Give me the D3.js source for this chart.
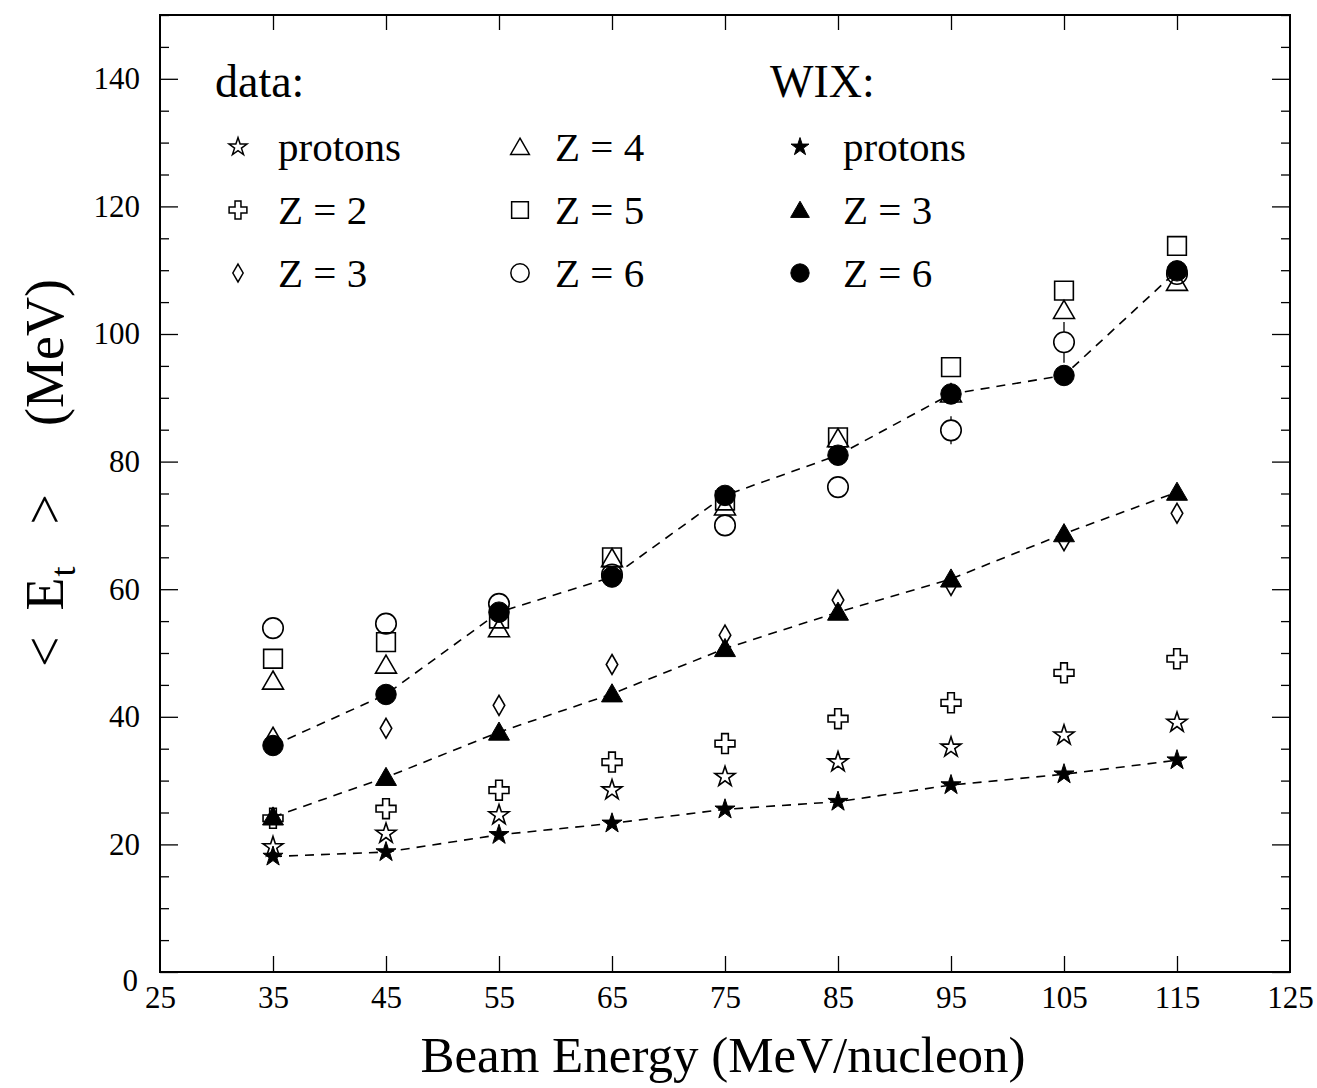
<!DOCTYPE html>
<html><head><meta charset="utf-8">
<script src="https://cdn.jsdelivr.net/npm/d3@7"></script>
<style>
html,body{margin:0;padding:0;background:#fff;}
text{font-family:"Liberation Serif","Times New Roman",serif;fill:#000;}
</style></head>
<body>
<svg id="chart" width="1317" height="1088"></svg>
<script>
const energies = [35,45,55,65,75,85,95,105,115];
const xTicks = [25,35,45,55,65,75,85,95,105,115,125];
const yTicks = [0,20,40,60,80,100,120,140];

const dataProtons = [19.6,21.7,24.6,28.5,30.6,32.9,35.2,37.1,39.1];
const dataZ2 = [24.1,25.6,28.5,32.9,35.8,39.7,42.2,46.9,49.1];
const dataZ3 = [36.8,38.2,41.8,48.2,52.8,58.3,60.6,67.6,71.9];
const dataZ4 = [45.6,48.1,53.8,64.8,72.9,83.6,90.6,103.7,108.1];
const dataZ5 = [49.1,51.7,55.4,65.0,73.9,83.8,94.8,106.8,113.8];
const dataZ6 = [53.9,54.6,57.7,62.3,70.0,76.0,84.9,98.7,109.4];
const dataZ6Err = [0,0,0,0,0,0,2.2,3.2,0];
const wixProtons = [18.1,18.8,21.5,23.3,25.5,26.7,29.3,31.0,33.2];
const wixZ3 = [24.3,30.5,37.6,43.6,50.7,56.4,61.6,68.7,75.2];
const wixZ6 = [35.5,43.5,56.4,61.9,74.7,81.0,90.6,93.5,109.9];

const svg = d3.select("#chart");
const L=160, R=1290, T=15, B=972;
const x = d3.scaleLinear().domain([25,125]).range([L,R]);
const y = d3.scaleLinear().domain([0,150]).range([B,T]);

const sym = {
  star: d3.symbolStar, cross: d3.symbolCross, diamond: d3.symbolDiamond,
  triangle: d3.symbolTriangle, square: d3.symbolSquare, circle: d3.symbolCircle
};
const sizes = {star:125, cross:220, diamond:115, triangle:190, square:350, circle:330};

const dataSeries = [
  {name:"protons", vals:dataProtons, s:"star", filled:false},
  {name:"Z = 2", vals:dataZ2, s:"cross", filled:false},
  {name:"Z = 3", vals:dataZ3, s:"diamond", filled:false},
  {name:"Z = 4", vals:dataZ4, s:"triangle", filled:false},
  {name:"Z = 5", vals:dataZ5, s:"square", filled:false},
  {name:"Z = 6", vals:dataZ6, s:"circle", filled:false, err:dataZ6Err}
];
const wixSeries = [
  {name:"protons", vals:wixProtons, s:"star", filled:true},
  {name:"Z = 3", vals:wixZ3, s:"triangle", filled:true},
  {name:"Z = 6", vals:wixZ6, s:"circle", filled:true}
];

function symPath(s, scale){ return d3.symbol().type(sym[s]).size(sizes[s]*(scale||1))(); }

// frame
svg.append("rect").attr("x",L).attr("y",T).attr("width",R-L).attr("height",B-T)
  .attr("fill","none").attr("stroke","#000").attr("stroke-width",2);

const minorY = d3.range(0,151,5).filter(v=>v%20!==0);
function styleAxis(g){ g.select(".domain").remove(); g.selectAll(".tick line").attr("stroke","#000").attr("stroke-width",1.3); }

svg.append("g").attr("transform",`translate(${L},0)`)
  .call(d3.axisLeft(y).tickValues(yTicks).tickSizeInner(-18).tickSizeOuter(0).tickFormat(d3.format("d")))
  .call(styleAxis)
  .call(g=>g.selectAll(".tick text").attr("font-size",31).attr("font-family","Liberation Serif").attr("x",-20).attr("text-anchor","end"))
  .call(g=>g.selectAll(".tick").filter(d=>d===0).select("text").attr("dy","0.6em").attr("x",-22));
svg.append("g").attr("transform",`translate(${L},0)`)
  .call(d3.axisLeft(y).tickValues(minorY).tickSizeInner(-9).tickSizeOuter(0).tickFormat(""))
  .call(styleAxis);
svg.append("g").attr("transform",`translate(${R},0)`)
  .call(d3.axisRight(y).tickValues(yTicks).tickSizeInner(-18).tickSizeOuter(0).tickFormat(""))
  .call(styleAxis);
svg.append("g").attr("transform",`translate(${R},0)`)
  .call(d3.axisRight(y).tickValues(minorY).tickSizeInner(-9).tickSizeOuter(0).tickFormat(""))
  .call(styleAxis);

svg.append("g").attr("transform",`translate(0,${B})`)
  .call(d3.axisBottom(x).tickValues(xTicks).tickSizeInner(-16).tickSizeOuter(0).tickFormat(d3.format("d")))
  .call(styleAxis)
  .call(g=>g.selectAll(".tick").filter(d=>d===25||d===125).select("line").remove())
  .call(g=>g.selectAll(".tick text").attr("font-size",31).attr("font-family","Liberation Serif").attr("y",14).attr("dy","0.71em"));
svg.append("g").attr("transform",`translate(0,${T})`)
  .call(d3.axisTop(x).tickValues(energies).tickSizeInner(-15).tickSizeOuter(0).tickFormat(""))
  .call(styleAxis);

// axis titles
svg.append("text").attr("x",(L+R)/2-2).attr("y",1072).attr("text-anchor","middle")
  .attr("font-size",51).text("Beam Energy (MeV/nucleon)");
const yt = svg.append("text").attr("transform","translate(63,667) rotate(-90)")
  .attr("text-anchor","start").attr("font-size",54);
yt.append("tspan").text("<");
yt.append("tspan").attr("dx",26).text("E");
yt.append("tspan").attr("font-size",36).attr("dy",12).attr("dx",1).text("t");
yt.append("tspan").attr("dy",-12).attr("dx",42).text(">");
yt.append("tspan").attr("dx",68).text("(MeV)");

// WIX dashed lines
const line = d3.line().x((d,i)=>x(energies[i])).y(d=>y(d));
const plot = svg.append("g");
wixSeries.forEach(s=>{
  plot.append("path").attr("d",line(s.vals)).attr("fill","none")
    .attr("stroke","#000").attr("stroke-width",1.6).attr("stroke-dasharray","9,7");
});

// error bars (drawn outside the marker only)
const markR = Math.sqrt(sizes.circle/Math.PI);
dataSeries.filter(s=>s.err).forEach(s=>{
  const pts = s.vals.map((v,i)=>({v,e:s.err[i],xe:energies[i]})).filter(d=>d.e>0);
  const g = plot.selectAll(null).data(pts).enter().append("g");
  g.append("line").attr("x1",d=>x(d.xe)).attr("x2",d=>x(d.xe))
    .attr("y1",d=>y(d.v+d.e)).attr("y2",d=>y(d.v)-markR)
    .attr("stroke","#000").attr("stroke-width",1.3);
  g.append("line").attr("x1",d=>x(d.xe)).attr("x2",d=>x(d.xe))
    .attr("y1",d=>y(d.v-d.e)).attr("y2",d=>y(d.v)+markR)
    .attr("stroke","#000").attr("stroke-width",1.3);
});

function drawPoints(s){
  plot.selectAll(null).data(s.vals).enter().append("path")
    .attr("transform",(d,i)=>`translate(${x(energies[i])},${y(d)+(s.s==="triangle"?2:0)})`)
    .attr("d",symPath(s.s))
    .attr("fill",s.filled?"#000":"none")
    .attr("stroke","#000").attr("stroke-width",s.filled?1:1.6)
    .attr("stroke-linejoin","miter");
}
dataSeries.forEach(drawPoints);
wixSeries.forEach(drawPoints);

// legend
const leg = svg.append("g");
leg.append("text").attr("x",215).attr("y",97).attr("font-size",46).text("data:");
leg.append("text").attr("x",770).attr("y",97).attr("font-size",46).text("WIX:");
const rowY = [147,210,273];
const legItems = [];
dataSeries.forEach((s,i)=>legItems.push({s, sx: i<3?238:520, tx: i<3?278:555, ry: rowY[i%3]}));
wixSeries.forEach((s,i)=>legItems.push({s, sx:800, tx:843, ry:rowY[i]}));
legItems.forEach(it=>{
  leg.append("path").attr("transform",`translate(${it.sx},${it.ry+(it.s.s==="triangle"?2:0)})`)
    .attr("d",symPath(it.s.s,0.8))
    .attr("fill",it.s.filled?"#000":"none").attr("stroke","#000").attr("stroke-width",it.s.filled?1:1.5);
  leg.append("text").attr("x",it.tx).attr("y",it.ry+14).attr("font-size",41).text(it.s.name);
});
</script>
</body></html>
